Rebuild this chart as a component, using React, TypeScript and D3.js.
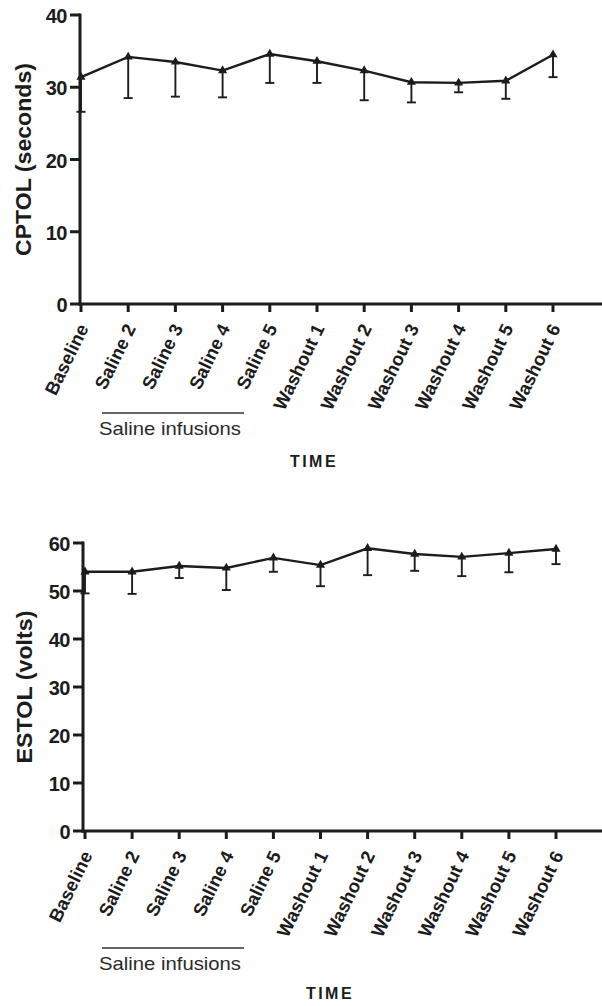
import React from "react";
import * as d3 from "d3";

const categories = [
  "Baseline", "Saline 2", "Saline 3", "Saline 4", "Saline 5",
  "Washout 1", "Washout 2", "Washout 3", "Washout 4", "Washout 5", "Washout 6",
];

const cptolMean = [31.4, 34.2, 33.5, 32.3, 34.6, 33.6, 32.3, 30.7, 30.6, 30.9, 34.5];
const cptolLow = [26.6, 28.5, 28.7, 28.6, 30.6, 30.6, 28.2, 27.9, 29.3, 28.4, 31.4];
const cptolTicks = [0, 10, 20, 30, 40];

const estolMean = [54.0, 54.0, 55.2, 54.8, 56.9, 55.4, 58.9, 57.7, 57.1, 57.9, 58.75];
const estolLow = [49.5, 49.4, 52.7, 50.2, 54.0, 51.0, 53.3, 54.2, 53.1, 53.9, 55.6];
const estolTicks = [0, 10, 20, 30, 40, 50, 60];

const FONT = "'Liberation Sans', Arial, Helvetica, sans-serif";
const INK = "#1c1c1c";

type PanelProps = {
  mean: number[];
  low: number[];
  ticks: number[];
  yMax: number;
  yTitle: string;
  yTitleLen: number;
  axisX: number;
  axisRight: number;
  xFirst: number;
  xLast: number;
  yTop: number;
  yBottom: number;
  titleX: number;
  groupLine: [number, number, number];
  groupTextY: number;
  timeX: number;
  timeY: number;
};

function Panel(p: PanelProps) {
  const x = d3.scaleLinear().domain([0, categories.length - 1]).range([p.xFirst, p.xLast]);
  const y = d3.scaleLinear().domain([0, p.yMax]).range([p.yBottom, p.yTop]);
  const line = d3
    .line<number>()
    .x((_, i) => x(i))
    .y((d) => y(d));
  const tri = d3.symbol().type(d3.symbolTriangle).size(36)();
  const capW = 9;
  return (
    <g>
      <line x1={p.axisX} x2={p.axisX} y1={p.yTop - 1.5} y2={p.yBottom + 1.5} stroke={INK} strokeWidth={3} />
      <line x1={p.axisX - 1.5} x2={p.axisRight} y1={p.yBottom} y2={p.yBottom} stroke={INK} strokeWidth={3} />
      {p.ticks.map((t) => (
        <g key={t}>
          <line x1={p.axisX - 10} x2={p.axisX} y1={y(t)} y2={y(t)} stroke={INK} strokeWidth={3} />
          <text
            x={p.axisX - 13}
            y={y(t) + 8}
            textAnchor="end"
            fontFamily={FONT}
            fontWeight="bold"
            fontSize={20}
            letterSpacing={-0.5}
            fill={INK}
          >
            {t}
          </text>
        </g>
      ))}
      {categories.map((c, i) => (
        <g key={c}>
          <line x1={x(i)} x2={x(i)} y1={p.yBottom} y2={p.yBottom + 8} stroke={INK} strokeWidth={3} />
          <text
            transform={`translate(${x(i) + 8},${p.yBottom + 24}) rotate(-64)`}
            textAnchor="end"
            fontFamily={FONT}
            fontWeight="bold"
            fontSize={18.5}
            fill={INK}
          >
            {c}
          </text>
        </g>
      ))}
      <text
        transform={`translate(${p.titleX},${(p.yTop + p.yBottom) / 2}) rotate(-90)`}
        textAnchor="middle"
        fontFamily={FONT}
        fontWeight="bold"
        fontSize={21.5}
        textLength={p.yTitleLen}
        lengthAdjust="spacingAndGlyphs"
        fill={INK}
      >
        {p.yTitle}
      </text>
      {p.mean.map((m, i) => (
        <g key={"e" + i}>
          <line x1={x(i)} x2={x(i)} y1={y(m)} y2={y(p.low[i])} stroke={INK} strokeWidth={1.9} />
          <line x1={x(i) - capW / 2} x2={x(i) + capW / 2} y1={y(p.low[i])} y2={y(p.low[i])} stroke={INK} strokeWidth={1.9} />
        </g>
      ))}
      <path d={line(p.mean) || ""} fill="none" stroke={INK} strokeWidth={2.4} />
      {p.mean.map((m, i) => (
        <path key={"m" + i} d={tri || ""} transform={`translate(${x(i)},${y(m)})`} fill={INK} />
      ))}
      <line x1={p.groupLine[0]} x2={p.groupLine[1]} y1={p.groupLine[2]} y2={p.groupLine[2]} stroke="#333" strokeWidth={1.6} />
      <text
        x={(p.groupLine[0] + p.groupLine[1]) / 2 - 3}
        y={p.groupTextY}
        textAnchor="middle"
        fontFamily={FONT}
        fontSize={19}
        textLength={142}
        lengthAdjust="spacingAndGlyphs"
        fill="#2a2a2a"
      >
        Saline infusions
      </text>
      <text
        x={p.timeX}
        y={p.timeY}
        textAnchor="middle"
        fontFamily={FONT}
        fontWeight="bold"
        fontSize={16}
        letterSpacing={2.5}
        fill={INK}
      >
        TIME
      </text>
    </g>
  );
}

export default function App() {
  return (
    <svg
      width={602}
      height={1006}
      style={{ position: "absolute", left: 0, top: 0, background: "#fff" }}
    >
      <rect width={602} height={1006} fill="#fff" />
      <Panel
        mean={cptolMean}
        low={cptolLow}
        ticks={cptolTicks}
        yMax={40}
        yTitle="CPTOL (seconds)"
        yTitleLen={193}
        axisX={80}
        axisRight={602}
        xFirst={81}
        xLast={553}
        yTop={15}
        yBottom={304}
        titleX={31}
        groupLine={[102, 244, 413]}
        groupTextY={435}
        timeX={314}
        timeY={467}
      />
      <Panel
        mean={estolMean}
        low={estolLow}
        ticks={estolTicks}
        yMax={60}
        yTitle="ESTOL (volts)"
        yTitleLen={153}
        axisX={83}
        axisRight={602}
        xFirst={85}
        xLast={556}
        yTop={543}
        yBottom={831}
        titleX={32}
        groupLine={[102, 244, 948]}
        groupTextY={970}
        timeX={330}
        timeY={999}
      />
    </svg>
  );
}
